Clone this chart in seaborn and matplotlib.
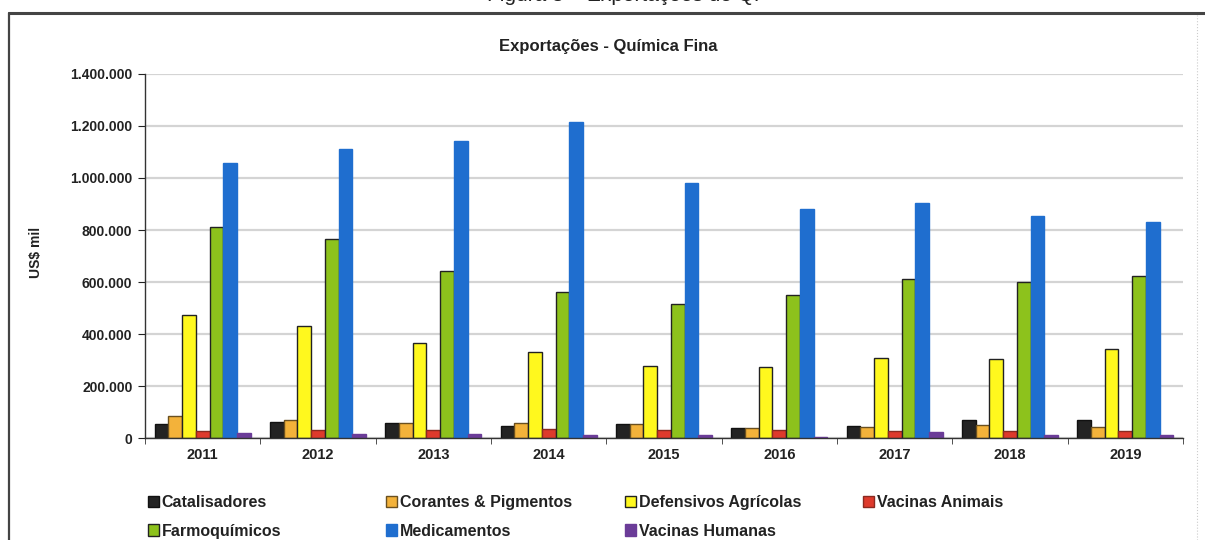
import numpy as np
import pandas as pd
import matplotlib
matplotlib.use("Agg")
import matplotlib.pyplot as plt
from matplotlib.ticker import FuncFormatter, FixedLocator
from matplotlib.lines import Line2D
import seaborn as sns

# values in US$ mil
anos = ["2011", "2012", "2013", "2014", "2015", "2016", "2017", "2018", "2019"]
catalisadores = [52000, 62000, 57000, 45000, 52000, 40000, 46000, 70000, 70000]
corantes = [85000, 68000, 57000, 58000, 53000, 40000, 44000, 50000, 42000]
defensivos = [474000, 432000, 366000, 332000, 278000, 272000, 308000, 304000, 342000]
vacinas_animais = [26000, 32000, 32000, 33000, 32000, 32000, 27000, 27000, 27000]
farmoquimicos = [810000, 764000, 643000, 563000, 517000, 551000, 613000, 599000, 625000]
medicamentos = [1057000, 1113000, 1141000, 1214000, 982000, 880000, 903000, 854000, 831000]
vacinas_humanas = [20000, 15000, 15000, 12000, 10000, 5000, 22000, 10000, 10000]

series = {
    "Catalisadores": catalisadores,
    "Corantes & Pigmentos": corantes,
    "Defensivos Agrícolas": defensivos,
    "Vacinas Animais": vacinas_animais,
    "Farmoquímicos": farmoquimicos,
    "Medicamentos": medicamentos,
    "Vacinas Humanas": vacinas_humanas,
}
cores = ["#232323", "#F3B23A", "#FFF81E", "#DE3A2C", "#8DC21C", "#1F6ECF", "#6B3C98"]
bordas = ["#111111", "#6a5020", "#222222", "#8a2a20", "#222222", "#1F6ECF", "#6B3C98"]


def build_frame():
    '''Long-format table for seaborn'''
    rows = []
    for nome, vals in series.items():
        for ano, v in zip(anos, vals):
            rows.append({"Ano": ano, "Categoria": nome, "Valor": v})
    return pd.DataFrame(rows)


def main():
    sns.set_style("white")
    plt.rcParams["font.family"] = ["Liberation Sans", "DejaVu Sans"]

    df = build_frame()
    fig = plt.figure(figsize=(12.05, 5.4), dpi=100)
    ax = fig.add_axes([145 / 1205, 1 - 438 / 540, 1038 / 1205, 364 / 540])

    sns.barplot(data=df, x="Ano", y="Valor", hue="Categoria",
                palette=cores, saturation=1, width=0.83, ax=ax,
                linewidth=1.0, legend=False)
    for cont, ec in zip(ax.containers, bordas):
        for patch in cont:
            patch.set_edgecolor(ec)

    ax.set_ylim(0, 1400000)
    ax.set_xlim(-0.5, 8.5)
    ax.set_yticks(np.arange(0, 1400001, 200000))
    ax.yaxis.set_major_formatter(
        FuncFormatter(lambda v, p: f"{v:,.0f}".replace(",", ".")))
    ax.grid(axis="y", color="#d4d4d4", linewidth=1.6)
    ax.set_axisbelow(True)

    for s in ["top", "right"]:
        ax.spines[s].set_visible(False)
    for s in ["left", "bottom"]:
        ax.spines[s].set_color("#333333")
        ax.spines[s].set_linewidth(1.0)

    ax.tick_params(axis="y", which="major", left=True, length=5,
                   labelsize=10, colors="#222222", pad=4)
    ax.tick_params(axis="x", which="major", length=0, labelsize=10.5,
                   pad=7, labelcolor="#222222")
    ax.xaxis.set_minor_locator(FixedLocator(np.arange(-0.5, 9, 1)))
    ax.tick_params(axis="x", which="minor", bottom=True, length=4,
                   color="#333333")
    for lab in ax.get_xticklabels() + ax.get_yticklabels():
        lab.set_fontweight("bold")

    ax.set_xlabel("")
    ax.set_ylabel("US$ mil", fontsize=10, fontweight="bold", color="#222222")
    ax.yaxis.set_label_coords(-0.098, 0.51)

    fig.text(608 / 1205, 1 - 47 / 540, "Exportações - Química Fina",
             ha="center", va="center", fontsize=12, fontweight="bold",
             color="#222222")

    # caption cut off at the top of the picture, only its lower edge shows
    fig.text(0.52, 1 - 1 / 540, "Figura 8 – Exportações de QF",
             ha="center", va="baseline", fontsize=15, color="#222222")

    # legend: one small legend per column, at the reference x positions
    nomes = list(series.keys())
    colunas = [[0, 4], [1, 5], [2, 6], [3]]
    for idx, x0 in zip(colunas, [148, 386, 625, 863]):
        handles = [ax.containers[i].patches[0] for i in idx]
        leg = fig.legend(handles, [nomes[i] for i in idx],
                         loc="upper left",
                         bbox_to_anchor=(x0 / 1205, 1 - 495 / 540),
                         frameon=False, fontsize=11.5, handlelength=0.7,
                         handleheight=0.7, handletextpad=0.15,
                         labelspacing=0.85, borderaxespad=0,
                         borderpad=0)
        for t in leg.get_texts():
            t.set_fontweight("bold")
            t.set_color("#222222")

    # frame around the chart
    fig.add_artist(Line2D([9 / 1205, 1], [1 - 13 / 540] * 2,
                          color="#444444", linewidth=2.2))
    fig.add_artist(Line2D([9 / 1205] * 2, [0, 1 - 13 / 540],
                          color="#444444", linewidth=1.6))
    fig.add_artist(Line2D([1197 / 1205] * 2, [0, 1 - 15 / 540],
                          color="#cccccc", linewidth=0.8, linestyle=":"))

    fig.savefig("out.png", dpi=100)


if __name__ == "__main__":
    main()
